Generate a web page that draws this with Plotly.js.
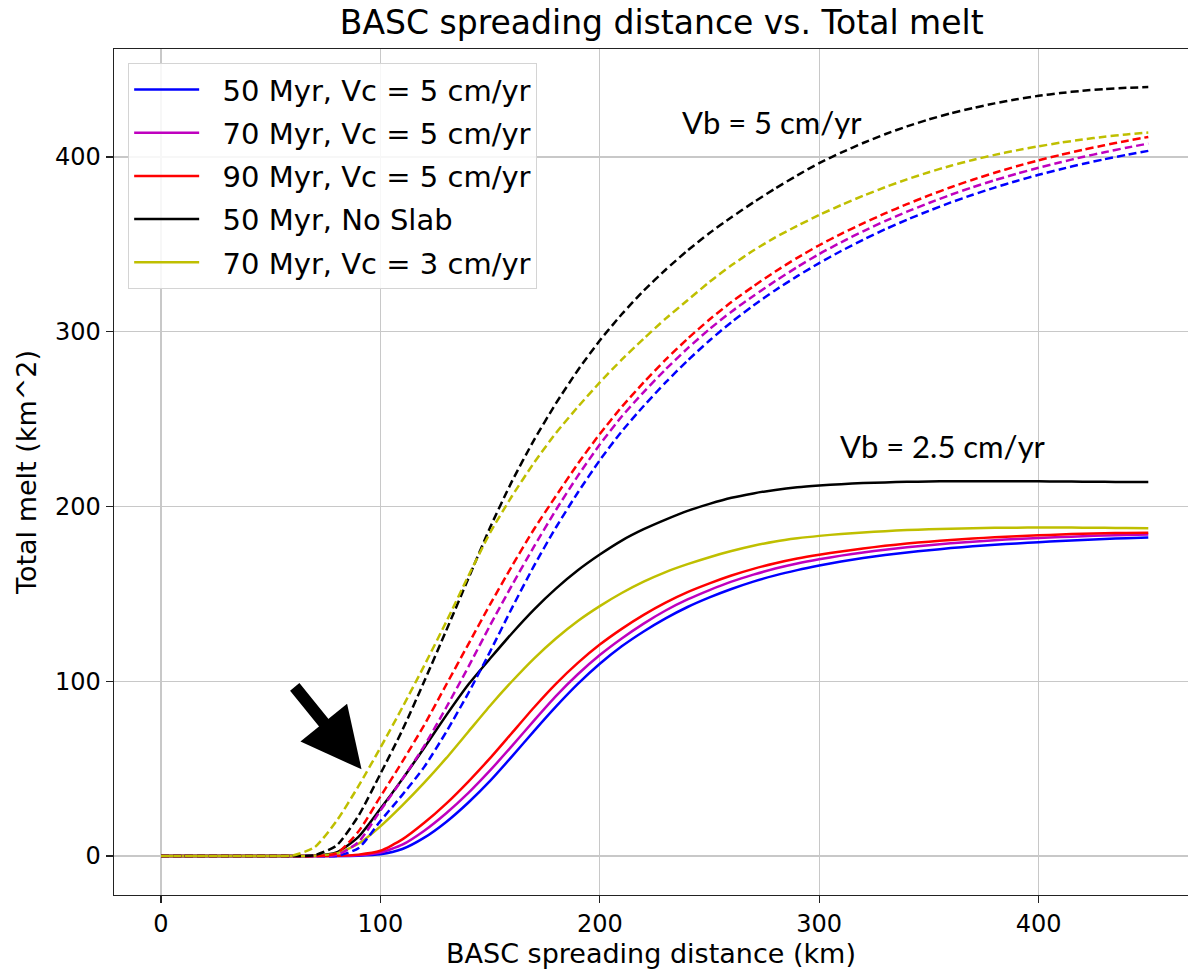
<!DOCTYPE html>
<html>
<head>
<meta charset="utf-8">
<script src="https://cdn.plot.ly/plotly-3.0.1.min.js"></script>
<style>
  html, body { margin: 0; padding: 0; background: #ffffff; overflow: hidden; }
  #chart { width: 1188px; height: 972px; }
</style>
</head>
<body>
<div id="chart"></div>
<script>
// BASC spreading distance (km), every 10 km
const distance = [0, 10, 20, 30, 40, 50, 60, 70, 80, 90, 100, 110, 120, 130, 140, 150, 160, 170, 180, 190, 200, 210, 220, 230, 240, 250, 260, 270, 280, 290, 300, 310, 320, 330, 340, 350, 360, 370, 380, 390, 400, 410, 420, 430, 440, 450];

// Vb = 2.5 cm/yr (solid lines)
const melt50Vc5_vb25    = [0, 0, 0, 0, 0, 0, 0, 0, 0, 0.2, 1, 4, 10.5, 19.5, 30.5, 43, 57, 71.5, 85.5, 98.5, 110, 120, 128.5, 136, 142.5, 148, 152.8, 157, 160.6, 163.6, 166.2, 168.5, 170.5, 172.2, 173.7, 175, 176.2, 177.2, 178.1, 178.9, 179.6, 180.3, 180.9, 181.4, 181.9, 182.3];
const melt70Vc5_vb25    = [0, 0, 0, 0, 0, 0, 0, 0, 0, 0.4, 2, 6.5, 14.5, 24.5, 36, 49, 63, 77.5, 91.5, 104, 115, 124.5, 133, 140.5, 146.8, 152.2, 157, 161, 164.5, 167.4, 169.8, 171.9, 173.7, 175.3, 176.7, 177.9, 179, 179.9, 180.7, 181.4, 182, 182.5, 183, 183.4, 183.7, 184];
const melt90Vc5_vb25    = [0, 0, 0, 0, 0, 0, 0, 0, 0.1, 0.8, 3, 9.5, 19, 30, 42.5, 56, 70.5, 85, 98.5, 110.5, 121, 130, 138, 145, 151, 156, 160.5, 164.3, 167.5, 170.2, 172.4, 174.3, 176, 177.5, 178.8, 179.9, 180.9, 181.7, 182.4, 183, 183.5, 184, 184.4, 184.7, 184.9, 185];
const melt50NoSlab_vb25 = [0, 0, 0, 0, 0, 0, 0, 0.1, 2, 11, 27, 44, 62, 80.5, 98, 113, 127.5, 141, 153, 163.5, 172.5, 180.5, 187, 192.5, 197.5, 201.5, 205, 207.5, 209.5, 211, 212, 212.8, 213.4, 213.8, 214.1, 214.3, 214.5, 214.5, 214.5, 214.5, 214.4, 214.3, 214.2, 214.1, 214, 214];
const melt70Vc3_vb25    = [0, 0, 0, 0, 0, 0, 0, 0.2, 1.5, 7, 17, 29, 42, 56, 71, 86, 100, 113, 124.5, 134.5, 143, 150.5, 157, 162.5, 167, 171, 174.5, 177.5, 180, 181.8, 183.2, 184.3, 185.2, 185.9, 186.5, 187, 187.3, 187.6, 187.8, 187.9, 188, 188, 187.9, 187.8, 187.7, 187.6];

// Vb = 5 cm/yr (dashed lines)
const melt50Vc5_vb5     = [0, 0, 0, 0, 0, 0, 0, 0, 0, 4.5, 20, 35, 51, 71, 93, 117, 142, 166, 188, 208, 226.5, 243, 257.5, 271, 283.5, 295, 305.5, 315, 323.8, 331.8, 339.3, 346.2, 352.6, 358.6, 364.1, 369.2, 374, 378.4, 382.5, 386.3, 389.8, 393, 396, 398.7, 401.2, 403.5];
const melt70Vc5_vb5     = [0, 0, 0, 0, 0, 0, 0, 0, 0.5, 8, 26, 44, 63, 85, 108, 132, 155, 177, 198, 217.5, 235.5, 251.5, 265.5, 278.5, 290.5, 301.5, 311.5, 320.5, 329, 337, 344.5, 351.2, 357.5, 363.3, 368.7, 373.7, 378.4, 382.7, 386.7, 390.4, 393.8, 397, 400, 402.7, 405.3, 407.7];
const melt90Vc5_vb5     = [0, 0, 0, 0, 0, 0, 0, 0, 1.5, 14, 34, 54, 75, 98, 121, 144, 166, 187, 206, 224.5, 241.5, 257, 271, 284, 296, 307, 317, 326, 334.5, 342.3, 349.5, 356, 362, 367.7, 373, 378, 382.7, 387, 391, 394.7, 398.1, 401.2, 404.1, 406.7, 409.2, 411.5];
const melt50NoSlab_vb5  = [0, 0, 0, 0, 0, 0, 0, 0.5, 6, 23, 47, 72, 100, 129, 158.5, 188, 214.5, 238, 259, 278, 295, 310, 323.5, 335.5, 346.5, 356.5, 365.5, 374, 382, 389.5, 396.5, 402.5, 408, 413, 417.5, 421.5, 425, 428, 430.7, 433, 435, 436.6, 437.9, 438.9, 439.6, 440];
const melt70Vc3_vb5     = [0, 0, 0, 0, 0, 0, 0.3, 5, 20, 40, 62, 85, 109, 134, 160, 185, 206, 225, 242, 257, 271, 284, 296, 307.5, 318, 328.5, 338, 346.5, 354, 360.6, 366.8, 372.5, 377.8, 382.7, 387.2, 391.3, 395, 398.3, 401.2, 403.8, 406.1, 408.2, 410, 411.6, 412.9, 414];

const seriesNames = ["50 Myr, Vc = 5 cm/yr", "70 Myr, Vc = 5 cm/yr", "90 Myr, Vc = 5 cm/yr", "50 Myr, No Slab", "70 Myr, Vc = 3 cm/yr"];
const seriesColors = ["#0000ff", "#bf00bf", "#ff0000", "#000000", "#bfbf00"];
const solidSeries = [melt50Vc5_vb25, melt70Vc5_vb25, melt90Vc5_vb25, melt50NoSlab_vb25, melt70Vc3_vb25];
const dashedSeries = [melt50Vc5_vb5, melt70Vc5_vb5, melt90Vc5_vb5, melt50NoSlab_vb5, melt70Vc3_vb5];

const xTicks = [0, 100, 200, 300, 400];
const yTicks = [0, 100, 200, 300, 400];

const traces = [];
for (let i = 0; i < seriesNames.length; i++) {
  traces.push({
    x: distance, y: solidSeries[i], type: "scatter", mode: "lines",
    name: "\u00a0\u00a0" + seriesNames[i], legendgroup: "g" + i,
    line: { color: seriesColors[i], width: 2.5, shape: "spline", smoothing: 0.6 },
    hoverinfo: "skip"
  });
}
for (let i = 0; i < seriesNames.length; i++) {
  traces.push({
    x: distance, y: dashedSeries[i], type: "scatter", mode: "lines",
    name: seriesNames[i] + " (Vb = 5)", showlegend: false, legendgroup: "g" + i,
    line: { color: seriesColors[i], width: 2.5, dash: "8px,4px", shape: "spline", smoothing: 0.6 },
    hoverinfo: "skip"
  });
}

const layout = {
  width: 1188, height: 972,
  paper_bgcolor: "#ffffff", plot_bgcolor: "#ffffff",
  margin: { l: 114, r: 0, t: 49, b: 77, pad: 0 },
  font: { family: "DejaVu Sans, sans-serif", color: "#000000" },
  title: {
    text: "BASC spreading distance vs. Total melt",
    font: { size: 33, family: "DejaVu Sans, sans-serif", color: "#000000" },
    x: 0.51, xanchor: "center", xref: "paper",
    y: 0.977, yanchor: "middle", yref: "container"
  },
  xaxis: {
    range: [-21.42, 468.1], tickvals: xTicks, ticktext: xTicks.map(String),
    showgrid: true, gridcolor: "#c8c8c8", gridwidth: 1.2,
    zeroline: false, showline: true, linecolor: "#222222", linewidth: 1.4, mirror: true,
    ticks: "outside", ticklen: 7, tickwidth: 1.2, tickcolor: "#222222",
    tickfont: { size: 24, family: "DejaVu Sans, sans-serif", color: "#000000" },
    title: { text: "BASC spreading distance (km)", font: { size: 27, family: "DejaVu Sans, sans-serif", color: "#000000" }, standoff: 6 }
  },
  yaxis: {
    range: [-22.3, 461.8], tickvals: yTicks, ticktext: yTicks.map(String),
    showgrid: true, gridcolor: "#c8c8c8", gridwidth: 1.2,
    zeroline: false, showline: true, linecolor: "#222222", linewidth: 1.4, mirror: false,
    ticks: "outside", ticklen: 7, tickwidth: 1.2, tickcolor: "#222222",
    tickfont: { size: 24, family: "DejaVu Sans, sans-serif", color: "#000000" },
    title: { text: "Total melt (km^2)", font: { size: 27, family: "DejaVu Sans, sans-serif", color: "#000000" }, standoff: 10 }
  },
  legend: {
    x: 0.013, y: 0.9835, xanchor: "left", yanchor: "top",
    bgcolor: "rgba(255,255,255,0.85)", bordercolor: "#d4d4d4", borderwidth: 1.2,
    font: { size: 29, family: "DejaVu Sans, sans-serif", color: "#000000" },
    itemwidth: 65, tracegroupgap: 2.5
  },
  annotations: [
    { x: 236.6, y: 420, xref: "x", yref: "y", text: "Vb = 5 cm/yr", showarrow: false,
      xanchor: "left", yanchor: "middle", font: { size: 31, family: "Lato, sans-serif", color: "#000000" } },
    { x: 308.6, y: 234.5, xref: "x", yref: "y", text: "Vb = 2.5 cm/yr", showarrow: false,
      xanchor: "left", yanchor: "middle", font: { size: 31, family: "Lato, sans-serif", color: "#000000" } },
    { x: 91.4, y: 49.6, xref: "x", yref: "y", text: "", showarrow: true,
      ax: -68, ay: -84, axref: "pixel", ayref: "pixel",
      arrowhead: 2, arrowsize: 1.0, arrowwidth: 12, arrowcolor: "#000000", standoff: 0 }
  ],
  showlegend: true
};

Plotly.newPlot("chart", traces, layout, { displayModeBar: false, staticPlot: true });
</script>
</body>
</html>
